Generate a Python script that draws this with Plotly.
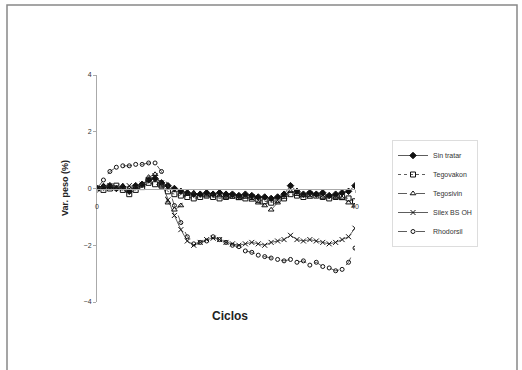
import plotly.graph_objects as go

cycles = list(range(0, 41))
names = ["Sin tratar", "Tegovakon", "Tegosivin", "Silex BS OH", "Rhodorsil"]

s1 = [0, 0.05, 0.1, 0.0, 0.05, -0.1, 0.1, 0.15, 0.3, 0.35, 0.2, 0.1, 0.0, -0.1, -0.15, -0.2, -0.2, -0.15, -0.2, -0.15,
      -0.2, -0.2, -0.25, -0.2, -0.25, -0.3, -0.3, -0.35, -0.3, -0.2, 0.1, -0.1, -0.2, -0.15, -0.2, -0.15, -0.25, -0.2,
      -0.15, -0.1, 0.1]
s2 = [0, -0.05, 0.0, 0.1, -0.05, -0.2, -0.05, 0.05, 0.2, 0.15, 0.1, -0.1, -0.2, -0.25, -0.3, -0.35, -0.3, -0.25, -0.3,
      -0.35, -0.3, -0.25, -0.3, -0.35, -0.3, -0.4, -0.45, -0.5, -0.4, -0.35, -0.2, -0.25, -0.3, -0.2, -0.25, -0.3, -0.35,
      -0.3, -0.3, -0.35, -0.45]
s3 = [0, 0.1, 0.05, 0.0, 0.1, 0.0, 0.05, 0.1, 0.4, 0.5, 0.1, -0.5, -0.75, -0.6, -0.2, -0.15, -0.2, -0.25, -0.2, -0.25,
      -0.3, -0.3, -0.35, -0.3, -0.4, -0.5, -0.6, -0.75, -0.5, -0.3, -0.1, -0.2, -0.25, -0.3, -0.2, -0.3, -0.25, -0.3,
      -0.35, -0.5, -0.6]
s4 = [0, 0.05, 0.1, 0.05, 0.0, 0.1, 0.05, 0.15, 0.3, 0.45, 0.2, -0.4, -0.95, -1.45, -1.85, -2.0, -1.9, -1.8, -1.75,
      -1.8, -1.9, -1.95, -2.0, -1.95, -1.9, -1.95, -2.0, -1.9, -1.85, -1.8, -1.65, -1.8, -1.85, -1.8, -1.85, -1.9, -1.95,
      -1.9, -1.8, -1.7, -1.4]
s5 = [0, 0.3, 0.6, 0.75, 0.8, 0.8, 0.85, 0.85, 0.9, 0.9, 0.6, 0.1, -0.6, -1.2, -1.7, -1.95, -1.9, -1.85, -1.7, -1.8,
      -1.9, -2.0, -2.05, -2.2, -2.25, -2.35, -2.4, -2.45, -2.5, -2.55, -2.5, -2.6, -2.55, -2.7, -2.6, -2.75, -2.8, -2.9,
      -2.85, -2.6, -2.1]
series = [s1, s2, s3, s4, s5]

symbols = ["diamond", "square-open", "triangle-up-open", "x-thin-open", "circle-open"]
dashes = ["solid", "dot", "dash", "solid", "dash"]
sizes = [5, 5, 5, 5, 4]

fig = go.Figure()
for name, vals, sym, dsh, sz in zip(names, series, symbols, dashes, sizes):
    fig.add_trace(go.Scatter(
        x=cycles, y=vals, name=name, mode="lines+markers",
        line=dict(color="#333333", width=0.8, dash=dsh),
        marker=dict(symbol=sym, size=sz, color="#111111", line=dict(color="#111111", width=1)),
    ))

L, R, T, B = 97, 167, 75, 68
W, H = 522, 370
pw, ph = W - L - R, H - T - B

def px(x):
    return (x - L) / pw

def py(y):
    return (H - B - y) / ph

fig.update_layout(
    width=W, height=H,
    margin=dict(l=L, r=R, t=T, b=B),
    paper_bgcolor="white", plot_bgcolor="white",
    font=dict(family="Liberation Sans, Arial, sans-serif", color="#222222"),
    showlegend=True,
    legend=dict(x=px(392), y=py(140), xanchor="left", yanchor="top",
                bordercolor="#dddddd", borderwidth=1, bgcolor="white",
                font=dict(size=7, color="#333333"), itemwidth=30, tracegroupgap=0),
    xaxis=dict(range=[0, 40], tickvals=[0, 40], ticktext=["0", "40"],
               anchor="free", position=0.5, showgrid=False, zeroline=False,
               showline=True, linecolor="#aaaaaa", linewidth=1,
               ticks="outside", ticklen=3, tickcolor="#aaaaaa",
               ticklabelstandoff=8,
               tickfont=dict(size=7, color="#333333")),
    yaxis=dict(range=[-4, 4], tickvals=[-4, -2, 0, 2, 4], showgrid=False, zeroline=False,
               showline=True, linecolor="#aaaaaa", linewidth=1,
               ticks="outside", ticklen=3, tickcolor="#aaaaaa",
               tickfont=dict(size=7, color="#333333")),
    shapes=[dict(type="rect", xref="paper", yref="paper",
                 x0=px(7), x1=px(517), y0=py(5), y1=py(375),
                 line=dict(color="#888888", width=1.5), fillcolor="rgba(0,0,0,0)", layer="below")],
    annotations=[
        dict(text="<b>Ciclos</b>", x=px(230), y=py(325), xref="paper", yref="paper",
             showarrow=False, font=dict(size=12, color="#222222")),
        dict(text="<b>Var. peso (%)</b>", x=px(58), y=py(188), xref="paper", yref="paper",
             textangle=-90, showarrow=False, font=dict(size=9, color="#222222")),
    ],
)

fig.write_html("out.html")
